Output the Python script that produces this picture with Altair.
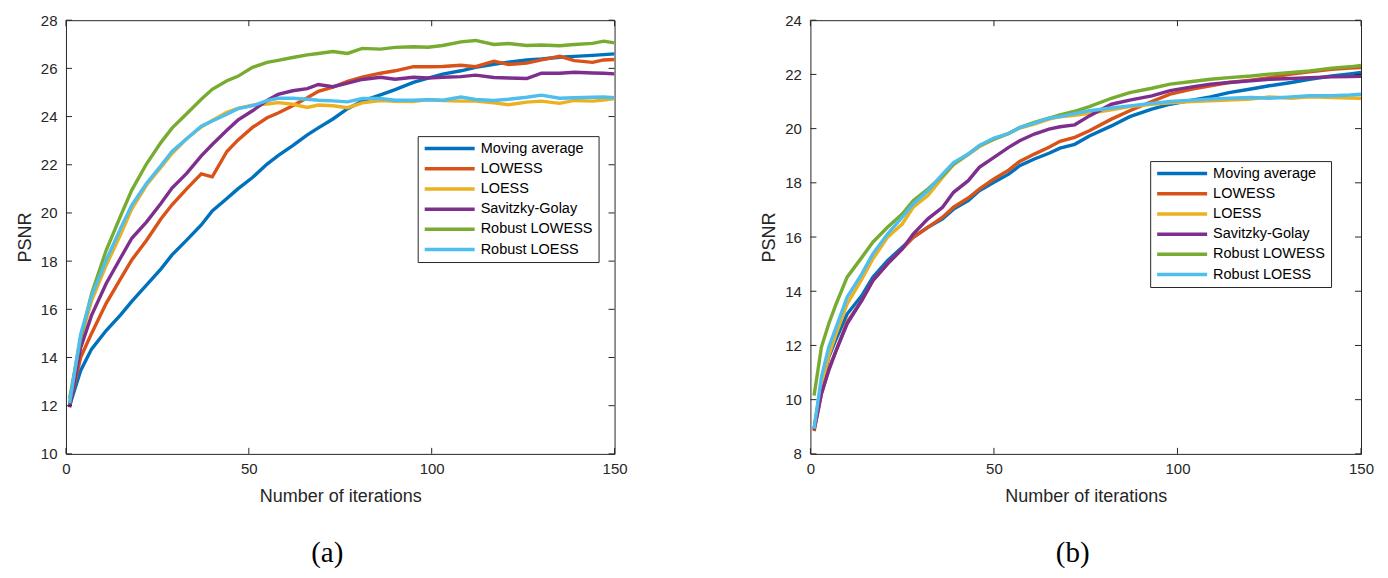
import altair as alt
import pandas as pd

NAMES = ["Moving average", "LOWESS", "LOESS", "Savitzky-Golay", "Robust LOWESS", "Robust LOESS"]
COLORS = ["#0072BD", "#D95319", "#EDB120", "#7E2F8E", "#77AC30", "#4DBEEE"]

# ---------- panel (a) ----------
XA = [1, 4, 7, 11, 15, 18, 22, 26, 29, 33, 37, 40, 44, 47, 51, 55, 58, 62, 66, 69, 73, 77, 81, 86,
      90, 95, 99, 103, 108, 112, 117, 121, 126, 130, 135, 139, 144, 147, 150]
A_MA = [12.0, 13.45, 14.35, 15.12, 15.78, 16.33, 17.0, 17.68, 18.26, 18.87, 19.5, 20.08, 20.6, 21.0,
        21.47, 22.03, 22.38, 22.79, 23.24, 23.53, 23.9, 24.33, 24.64, 24.9, 25.12, 25.42, 25.6, 25.76,
        25.9, 26.04, 26.17, 26.26, 26.35, 26.39, 26.46, 26.5, 26.54, 26.57, 26.6]
A_LOWESS = [12.0, 14.0, 15.0, 16.25, 17.28, 18.05, 18.86, 19.76, 20.34, 21.0, 21.62, 21.5, 22.55, 23.02,
            23.55, 23.95, 24.15, 24.45, 24.78, 25.05, 25.22, 25.46, 25.64, 25.8, 25.9, 26.07, 26.07, 26.08,
            26.13, 26.07, 26.3, 26.16, 26.22, 26.35, 26.5, 26.32, 26.25, 26.35, 26.37]
A_LOESS = [12.1, 14.75, 16.35, 17.83, 19.12, 20.17, 21.15, 21.9, 22.47, 23.08, 23.57, 23.84, 24.18, 24.34,
           24.47, 24.52, 24.58, 24.51, 24.38, 24.48, 24.45, 24.37, 24.57, 24.66, 24.63, 24.62, 24.71, 24.66,
           24.64, 24.64, 24.57, 24.49, 24.6, 24.64, 24.55, 24.67, 24.64, 24.68, 24.75]
A_SG = [11.93, 14.4, 15.75, 17.07, 18.15, 18.95, 19.62, 20.4, 21.03, 21.64, 22.37, 22.84, 23.43, 23.85,
        24.24, 24.67, 24.92, 25.07, 25.16, 25.33, 25.24, 25.39, 25.54, 25.63, 25.55, 25.63, 25.6, 25.63,
        25.66, 25.72, 25.62, 25.6, 25.58, 25.8, 25.8, 25.84, 25.81, 25.8, 25.77]
A_RLOWESS = [12.3, 14.8, 16.65, 18.45, 19.9, 20.95, 22.03, 22.93, 23.52, 24.12, 24.72, 25.13, 25.49, 25.67,
             26.04, 26.25, 26.33, 26.45, 26.56, 26.62, 26.7, 26.62, 26.83, 26.8, 26.87, 26.9, 26.88, 26.95,
             27.1, 27.16, 26.99, 27.03, 26.95, 26.97, 26.94, 26.99, 27.04, 27.13, 27.06]
A_RLOESS = [12.1, 14.95, 16.55, 18.04, 19.38, 20.33, 21.22, 21.97, 22.55, 23.08, 23.6, 23.82, 24.1, 24.33,
            24.45, 24.66, 24.76, 24.76, 24.72, 24.68, 24.65, 24.61, 24.75, 24.75, 24.68, 24.68, 24.7, 24.68,
            24.81, 24.71, 24.67, 24.72, 24.8, 24.89, 24.76, 24.78, 24.8, 24.81, 24.78]

# ---------- panel (b) ----------
XB = [1, 3, 5, 7, 10, 14, 17, 21, 25, 28, 32, 36, 39, 43, 46, 50, 54, 57, 61, 65, 68, 72, 76, 82, 87,
      93, 98, 104, 109, 114, 120, 125, 131, 136, 142, 147, 150]
B_MA = [8.93, 10.58, 11.57, 12.24, 13.16, 13.84, 14.52, 15.13, 15.62, 15.99, 16.36, 16.67, 17.03, 17.34,
        17.71, 18.02, 18.32, 18.63, 18.88, 19.09, 19.28, 19.42, 19.73, 20.1, 20.44, 20.72, 20.9, 21.05,
        21.17, 21.33, 21.46, 21.58, 21.7, 21.82, 21.94, 22.02, 22.07]
B_LOWESS = [8.84, 10.22, 11.14, 11.81, 12.86, 13.66, 14.39, 15.01, 15.56, 15.99, 16.36, 16.73, 17.1, 17.44,
            17.77, 18.14, 18.47, 18.79, 19.06, 19.31, 19.53, 19.68, 19.92, 20.35, 20.66, 21.0, 21.27, 21.46,
            21.58, 21.7, 21.79, 21.88, 22.01, 22.1, 22.19, 22.23, 22.25]
B_LOESS = [8.95, 10.58, 11.63, 12.43, 13.53, 14.45, 15.19, 15.99, 16.48, 17.1, 17.53, 18.2, 18.67, 19.04,
           19.33, 19.61, 19.82, 20.02, 20.17, 20.35, 20.44, 20.49, 20.56, 20.69, 20.81, 20.9, 20.95, 21.0,
           21.03, 21.05, 21.09, 21.17, 21.12, 21.17, 21.15, 21.13, 21.12]
B_SG = [8.89, 10.22, 11.08, 11.81, 12.8, 13.66, 14.39, 15.01, 15.56, 16.11, 16.67, 17.1, 17.65, 18.08,
        18.57, 18.94, 19.31, 19.55, 19.8, 19.98, 20.07, 20.14, 20.47, 20.9, 21.05, 21.21, 21.4, 21.54,
        21.64, 21.7, 21.76, 21.82, 21.85, 21.88, 21.91, 21.92, 21.93]
B_RLOWESS = [10.15, 11.94, 12.8, 13.53, 14.52, 15.25, 15.81, 16.36, 16.85, 17.34, 17.77, 18.26, 18.69, 19.06,
             19.37, 19.61, 19.82, 20.04, 20.23, 20.39, 20.51, 20.64, 20.81, 21.12, 21.33, 21.49, 21.64, 21.74,
             21.82, 21.88, 21.94, 22.01, 22.07, 22.13, 22.23, 22.28, 22.33]
B_RLOESS = [8.93, 10.83, 11.94, 12.67, 13.78, 14.64, 15.38, 16.11, 16.73, 17.22, 17.71, 18.32, 18.75, 19.06,
            19.37, 19.65, 19.82, 20.04, 20.2, 20.39, 20.44, 20.55, 20.66, 20.76, 20.84, 20.93, 21.0, 21.05,
            21.09, 21.12, 21.15, 21.12, 21.17, 21.21, 21.21, 21.24, 21.27]

XTICKS = [0, 50, 100, 150]
YTICKS_A = [10, 12, 14, 16, 18, 20, 22, 24, 26, 28]
YTICKS_B = [8, 10, 12, 14, 16, 18, 20, 22, 24]

INK = "#262626"
FONT = "Liberation Sans"


def long_df(xs, series):
    rows = []
    for name, vals in zip(NAMES, series):
        for i, (x, v) in enumerate(zip(xs, vals)):
            rows.append({"it": x, "psnr": v, "series": name, "k": i})
    return pd.DataFrame(rows)


def panel(df, ydomain, yticks, W, H, lx, ly, caption):
    xs = alt.Scale(domain=[0, 150], nice=False, zero=False)
    ys = alt.Scale(domain=ydomain, nice=False, zero=False)
    xaxis = alt.Axis(values=XTICKS, title="Number of iterations", ticks=False, domain=False, grid=False,
                     labelFont=FONT, labelFontSize=15, labelColor=INK, labelPadding=8, labelFlush=False,
                     labelOverlap=False, titleFont=FONT, titleFontSize=18, titleFontWeight="normal",
                     titleColor=INK, titlePadding=11)
    yaxis = alt.Axis(values=yticks, title="PSNR", ticks=False, domain=False, grid=False,
                     labelFont=FONT, labelFontSize=15, labelColor=INK, labelPadding=9, labelFlush=False,
                     labelOverlap=False, titleFont=FONT, titleFontSize=18, titleFontWeight="normal",
                     titleColor=INK, titlePadding=6)
    legend = alt.Legend(orient="none", legendX=lx, legendY=ly, title=None, symbolType="stroke",
                        symbolStrokeWidth=3.5, symbolSize=2500, labelFont=FONT, labelFontSize=14.5,
                        labelColor="black", strokeColor=INK, fillColor="white", padding=5,
                        rowPadding=4.2, clipHeight=15, labelOffset=4)
    lines = alt.Chart(df).mark_line(strokeWidth=3.4, clip=True).encode(
        x=alt.X("it:Q", scale=xs, axis=xaxis, title="Number of iterations"),
        y=alt.Y("psnr:Q", scale=ys, axis=yaxis, title="PSNR"),
        color=alt.Color("series:N", scale=alt.Scale(domain=NAMES, range=COLORS), legend=legend,
                        sort=NAMES),
        order=alt.Order("k:Q"),
    )
    xt = pd.DataFrame({"t": XTICKS})
    yt = pd.DataFrame({"t": yticks})
    tb = alt.Chart(xt).mark_rule(color=INK, strokeWidth=1).encode(
        x=alt.X("t:Q", scale=xs, axis=xaxis, title="Number of iterations"), y=alt.value(H), y2=alt.value(H - 6))
    tt = alt.Chart(xt).mark_rule(color=INK, strokeWidth=1).encode(
        x=alt.X("t:Q", scale=xs, axis=xaxis, title="Number of iterations"), y=alt.value(0), y2=alt.value(6))
    tl = alt.Chart(yt).mark_rule(color=INK, strokeWidth=1).encode(
        y=alt.Y("t:Q", scale=ys, axis=yaxis, title="PSNR"), x=alt.value(0), x2=alt.value(6))
    tr = alt.Chart(yt).mark_rule(color=INK, strokeWidth=1).encode(
        y=alt.Y("t:Q", scale=ys, axis=yaxis, title="PSNR"), x=alt.value(W), x2=alt.value(W - 6))
    return alt.layer(lines, tb, tt, tl, tr).properties(
        width=W, height=H,
        title=alt.Title(caption, orient="bottom", font="Liberation Serif", fontSize=29,
                        fontWeight="normal", color="black", offset=33, dx=-13, anchor="middle"),
    )


dfa = long_df(XA, [A_MA, A_LOWESS, A_LOESS, A_SG, A_RLOWESS, A_RLOESS])
dfb = long_df(XB, [B_MA, B_LOWESS, B_LOESS, B_SG, B_RLOWESS, B_RLOESS])

pa = panel(dfa, [10, 28], YTICKS_A, 549, 434, 352, 116, "(a)")
pb = panel(dfb, [8, 24], YTICKS_B, 551, 434, 340, 141, "(b)")

chart = alt.hconcat(pa, pb, spacing=131).resolve_scale(
    x="independent", y="independent", color="independent"
).resolve_legend(color="independent").configure_view(
    stroke=INK, strokeWidth=1
).properties(
    padding={"left": 7, "top": 4, "right": 5, "bottom": 2}, background="white"
)

chart.save("out.html", embed_options={"renderer": "svg", "actions": False})
